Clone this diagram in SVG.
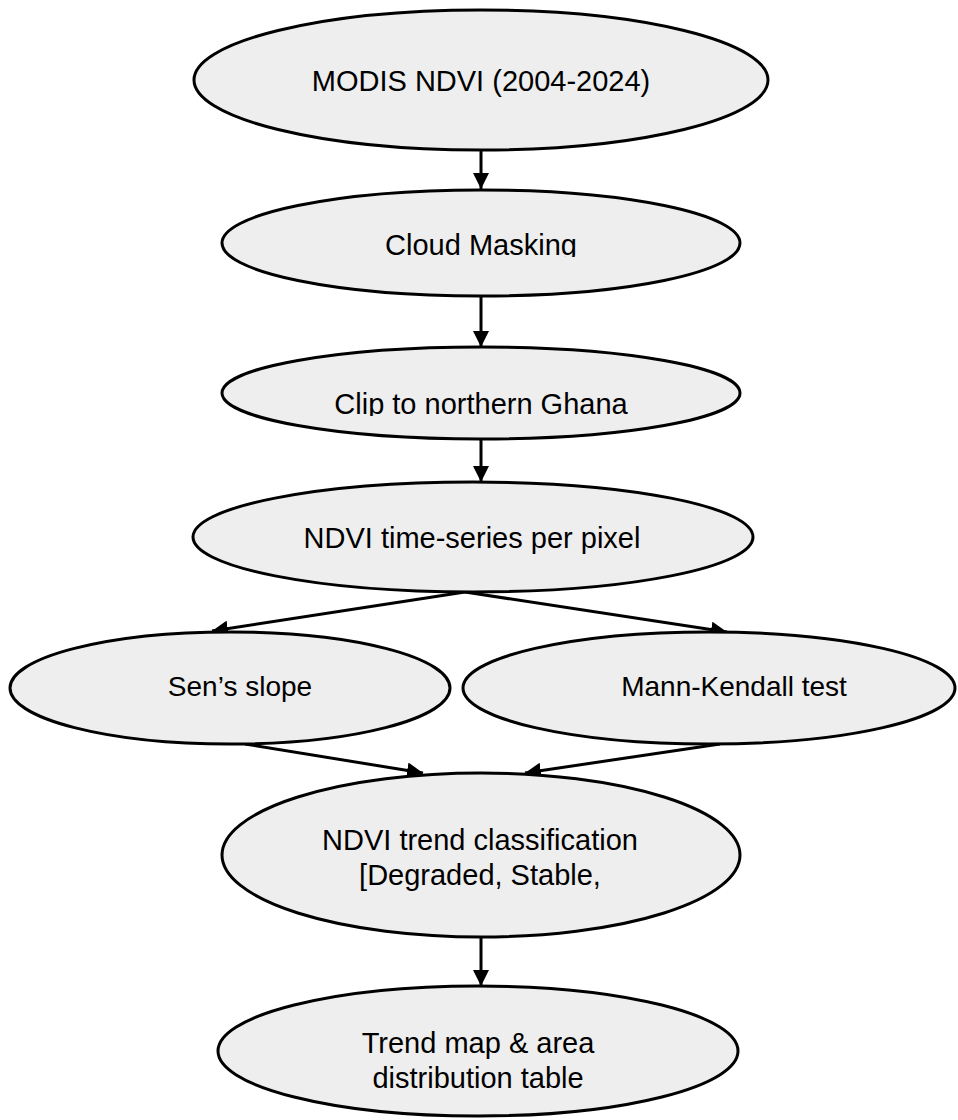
<svg xmlns="http://www.w3.org/2000/svg" width="958" height="1120" viewBox="0 0 958 1120">
<style>
.node{fill:#eeeeee;stroke:#000;stroke-width:3}
.lbl{font-family:"Liberation Sans",Arial,sans-serif;font-size:29px;fill:#000;text-anchor:middle}
.sm{font-size:28px}
.edge{stroke:#000;stroke-width:3;fill:none;marker-end:url(#arr)}
</style>
<defs>
<marker id="arr" markerUnits="userSpaceOnUse" markerWidth="16" markerHeight="16" viewBox="0 0 14 14" refX="14" refY="7" orient="auto">
<path d="M0,0 L14,7 L0,14 Z" fill="#000"/>
</marker>
<clipPath id="c2"><rect x="0" y="180" width="958" height="77"/></clipPath>
<clipPath id="c3"><rect x="0" y="340" width="958" height="76"/></clipPath>
<clipPath id="c7"><rect x="0" y="770" width="958" height="121"/></clipPath>
</defs>
<rect width="958" height="1120" fill="#fff"/>
<g id="edges">
<line class="edge" x1="481" y1="151" x2="481" y2="189"/>
<line class="edge" x1="481" y1="296" x2="481" y2="347"/>
<line class="edge" x1="481" y1="439" x2="481" y2="482"/>
<line class="edge" x1="465" y1="592" x2="212" y2="631"/>
<line class="edge" x1="465" y1="592" x2="727" y2="632"/>
<line class="edge" x1="245" y1="744" x2="423" y2="773"/>
<line class="edge" x1="720" y1="744" x2="525" y2="773"/>
<line class="edge" x1="481" y1="937" x2="481" y2="986"/>
</g>
<g id="n1"><ellipse class="node" cx="481" cy="80" rx="287" ry="70"/><text class="lbl" x="481" y="91">MODIS NDVI (2004-2024)</text></g>
<g id="n2"><ellipse class="node" cx="481" cy="243" rx="259" ry="53"/><text class="lbl" x="481" y="255" clip-path="url(#c2)">Cloud Masking</text></g>
<g id="n3"><ellipse class="node" cx="481" cy="393" rx="259" ry="46"/><text class="lbl" x="481" y="414" clip-path="url(#c3)">Clip to northern Ghana</text></g>
<g id="n4"><ellipse class="node" cx="473" cy="537" rx="280" ry="55"/><text class="lbl" x="472" y="548">NDVI time-series per pixel</text></g>
<g id="n5"><ellipse class="node" cx="230" cy="688" rx="220" ry="56"/><text class="lbl sm" x="240" y="696">Sen’s slope</text></g>
<g id="n6"><ellipse class="node" cx="709" cy="688" rx="246" ry="56"/><text class="lbl sm" x="734" y="696">Mann-Kendall test</text></g>
<g id="n7"><ellipse class="node" cx="481" cy="855" rx="259" ry="82"/><g clip-path="url(#c7)"><text class="lbl" x="480" y="850">NDVI trend classification</text><text class="lbl" x="480" y="885">[Degraded, Stable,</text></g></g>
<g id="n8"><ellipse class="node" cx="478" cy="1051" rx="260" ry="65"/><text class="lbl" x="478" y="1053">Trend map &amp; area</text><text class="lbl" x="478" y="1088">distribution table</text></g>
</svg>
